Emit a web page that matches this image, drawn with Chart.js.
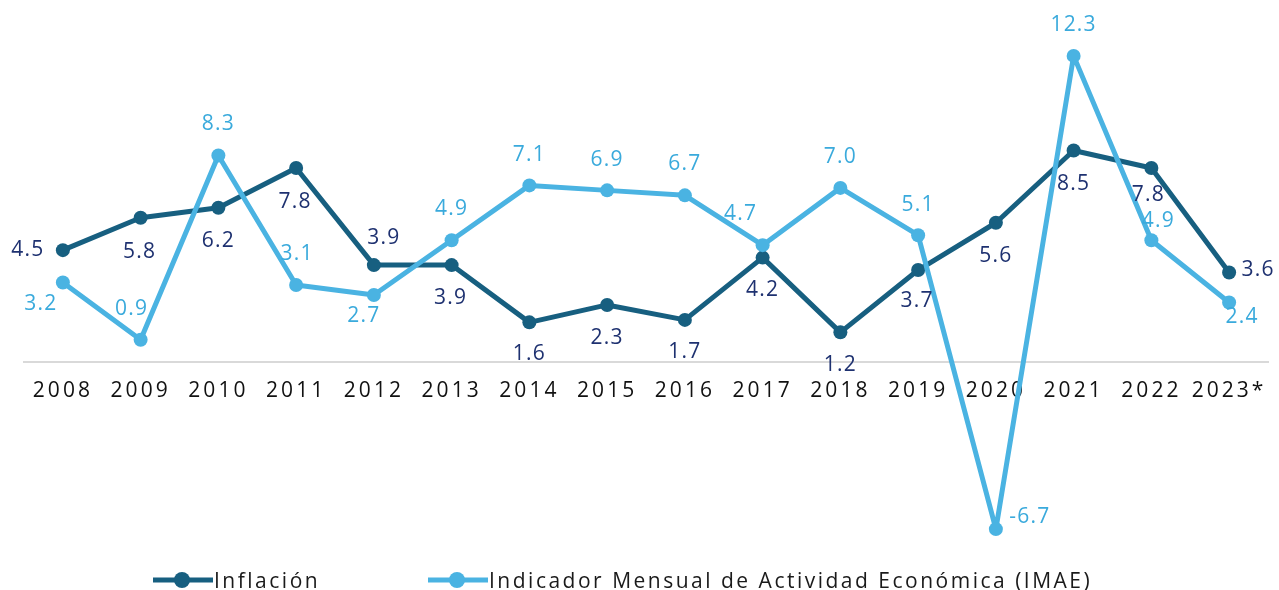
<!DOCTYPE html>
<html>
<head>
<meta charset="utf-8">
<script src="https://cdn.jsdelivr.net/npm/chart.js@4/dist/chart.umd.min.js"></script>
<style>
  html, body { margin: 0; padding: 0; background: #ffffff; }
  #wrap { position: relative; width: 1279px; height: 590px; }
  #chart { position: absolute; left: 0; top: 0; }
  #legend { position: absolute; top: 565px; left: 0; width: 1279px; height: 30px;
            font-family: "Open Sans", sans-serif; font-size: 21px; letter-spacing: 2.5px; color: #1a1a1a; }
  .item { position: absolute; top: 0; display: flex; align-items: center; height: 30px; white-space: nowrap; }
  .item svg { margin-right: 1px; }
</style>
</head>
<body>
<div id="wrap">
  <canvas id="chart" width="1279" height="590"></canvas>
  <div id="legend"></div>
</div>
<script>
// ---- data ----
const years = ["2008","2009","2010","2011","2012","2013","2014","2015","2016","2017","2018","2019","2020","2021","2022","2023*"];
const inflacion = [4.5, 5.8, 6.2, 7.8, 3.9, 3.9, 1.6, 2.3, 1.7, 4.2, 1.2, 3.7, 5.6, 8.5, 7.8, 3.6];
const imae = [3.2, 0.9, 8.3, 3.1, 2.7, 4.9, 7.1, 6.9, 6.7, 4.7, 7.0, 5.1, -6.7, 12.3, 4.9, 2.4];
const seriesNames = ["Inflación", "Indicador Mensual de Actividad Económica (IMAE)"];

// ---- styling ----
const darkLine = "#175f80";
const darkText = "#1e3170";
const lightLine = "#4ab3e2";
const lightText = "#3aaadc";
const FONT = '"Open Sans", sans-serif';

// label offsets (label centre relative to point), styling only
const inflacionLabelOffset = [[-35,0],[-1,34],[0,33],[-1,34],[10,-27],[-1,33],[0,32],[0,33],[0,32],[0,32],[0,33],[-1,31],[0,33],[0,33],[-3,27],[29,-3]];
const imaeLabelOffset = [[-22,21],[-9,-31],[0,-31],[1,-31],[-10,21],[0,-31],[0,-30],[0,-30],[0,-31],[-22,-31],[0,-31],[0,-30],[34,-12],[0,-31],[7,-19],[13,15]];

const labelPlugin = {
  id: 'valueLabels',
  afterDatasetsDraw(chart) {
    const ctx = chart.ctx;
    ctx.save();
    ctx.font = '21px ' + FONT;
    ctx.letterSpacing = '1.2px';
    ctx.textAlign = 'center';
    ctx.textBaseline = 'middle';
    chart.data.datasets.forEach((ds, di) => {
      const meta = chart.getDatasetMeta(di);
      const offs = ds.labelOffsets;
      ctx.fillStyle = ds.labelColor;
      meta.data.forEach((pt, i) => {
        const v = ds.data[i];
        const txt = v.toFixed(1);
        ctx.fillText(txt, pt.x + offs[i][0], pt.y + offs[i][1]);
      });
    });
    ctx.restore();
  }
};

const spacingPlugin = {
  id: 'tickSpacing',
  beforeDraw(chart) { chart.ctx.letterSpacing = '3px'; },
  afterDraw(chart) { chart.ctx.letterSpacing = '0px'; }
};

new Chart(document.getElementById('chart'), {
  type: 'line',
  data: {
    labels: years,
    datasets: [
      {
        label: seriesNames[0],
        data: inflacion,
        borderColor: darkLine,
        backgroundColor: darkLine,
        pointBackgroundColor: darkLine,
        pointBorderColor: darkLine,
        borderWidth: 5,
        borderJoinStyle: 'round',
        borderCapStyle: 'round',
        pointRadius: 7,
        pointBorderWidth: 0,
        tension: 0,
        clip: false,
        order: 2,
        labelColor: darkText,
        labelOffsets: inflacionLabelOffset
      },
      {
        label: seriesNames[1],
        data: imae,
        borderColor: lightLine,
        backgroundColor: lightLine,
        pointBackgroundColor: lightLine,
        pointBorderColor: lightLine,
        borderWidth: 5,
        borderJoinStyle: 'round',
        borderCapStyle: 'round',
        pointRadius: 7,
        pointBorderWidth: 0,
        tension: 0,
        clip: false,
        order: 1,
        labelColor: lightText,
        labelOffsets: imaeLabelOffset
      }
    ]
  },
  options: {
    responsive: false,
    animation: false,
    layout: { padding: { left: 24, right: 11, top: 26, bottom: 41 } },
    plugins: {
      legend: { display: false },
      tooltip: { enabled: false }
    },
    scales: {
      x: {
        type: 'category',
        position: { y: 0 },
        offset: true,
        grid: { display: false, drawTicks: false },
        border: { display: true, color: '#d9d9d9', width: 2 },
        ticks: {
          color: '#111111',
          font: { family: FONT, size: 21 },
          padding: 16,
          maxRotation: 0,
          autoSkip: false
        }
      },
      y: {
        display: false,
        min: -7.5,
        max: 13.5
      }
    }
  },
  plugins: [labelPlugin, spacingPlugin]
});

// legend (HTML)
function marker(color) {
  return '<svg width="60" height="18" viewBox="0 0 60 18"><line x1="0" y1="9" x2="60" y2="9" stroke="' + color +
         '" stroke-width="5"/><circle cx="29" cy="9" r="8" fill="' + color + '"/></svg>';
}
const legend = document.getElementById('legend');
const legendLeft = [153, 428];
const legendColors = [darkLine, lightLine];
seriesNames.forEach((name, i) => {
  const d = document.createElement('div');
  d.className = 'item';
  d.style.left = legendLeft[i] + 'px';
  d.innerHTML = marker(legendColors[i]) + '<span></span>';
  d.querySelector('span').textContent = name;
  legend.appendChild(d);
});
</script>
</body>
</html>
